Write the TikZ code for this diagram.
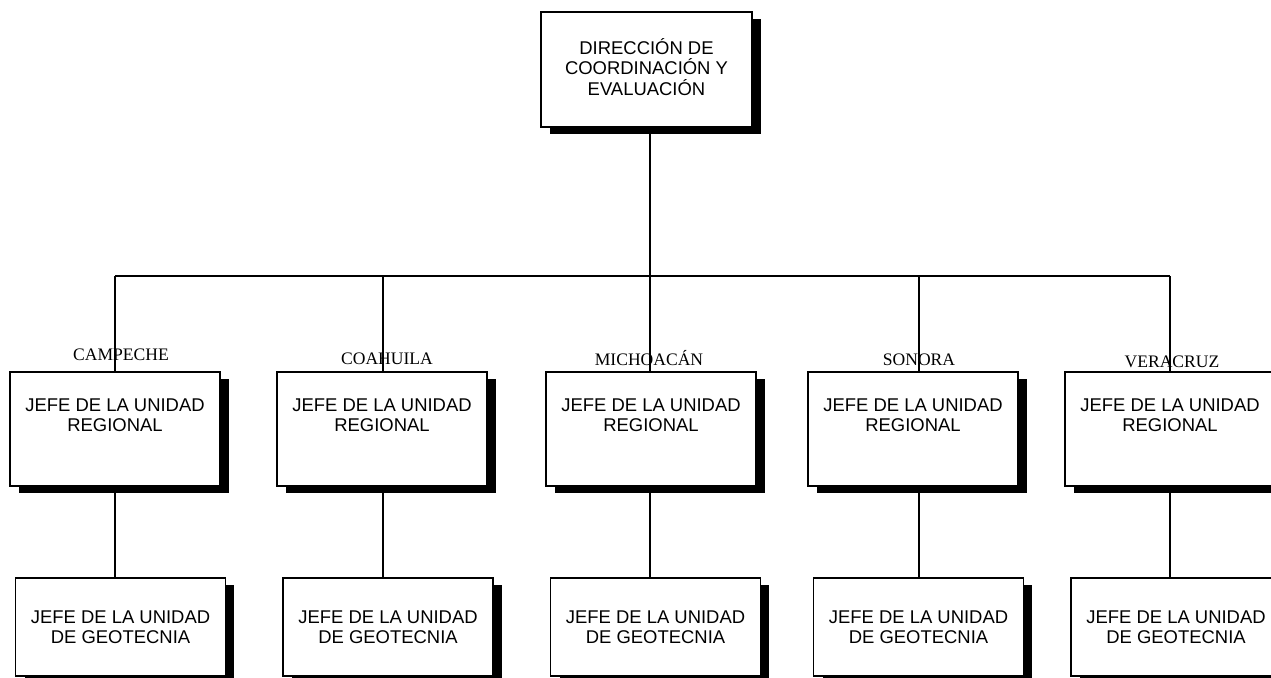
\documentclass[tikz,border=0pt]{standalone}
\usepackage{fontspec}
\setmainfont{Liberation Sans}
\newfontfamily\statefont{Liberation Serif}
\usetikzlibrary{shadows}
\tikzset{
  box/.style={rectangle, draw, line width=1.1pt, fill=white, minimum width=4.2cm,
    align=center, font=\fontsize{10.5}{11.6}\selectfont,
    drop shadow={shadow xshift=0.18cm, shadow yshift=-0.14cm, fill=black, opacity=1}},
  regbox/.style={box, minimum height=2.28cm},
  geobox/.style={box, minimum height=1.96cm},
  boxtext/.style={align=center, font=\fontsize{10.5}{11.6}\selectfont, inner sep=0pt},
  state/.style={font=\statefont\fontsize{10}{12}\selectfont, inner sep=0pt},
  link/.style={line width=1.1pt}
}
\begin{document}
\begin{tikzpicture}[x=0.02cm, y=-0.02cm]
\useasboundingbox (0,0) rectangle (1271,677);
% top
\node[box, minimum width=4.22cm, minimum height=2.3cm] (dir) at (646.5,69.5) {};
\node[boxtext] (dirtext) at (646.5,67) {DIRECCIÓN DE\\COORDINACIÓN Y\\EVALUACIÓN};
% junctions on the bar
\coordinate (j1) at (115,276);
\coordinate (j2) at (383,276);
\coordinate (j3) at (650,276);
\coordinate (j4) at (919,276);
\coordinate (j5) at (1170,276);
% regional units
\node[regbox] (reg1) at (115,429) {};
\node[regbox] (reg2) at (382,429) {};
\node[regbox] (reg3) at (651,429) {};
\node[regbox] (reg4) at (913,429) {};
\node[regbox] (reg5) at (1170,429) {};
\node[boxtext] (regtext1) at (115,415) {JEFE DE LA UNIDAD\\REGIONAL};
\node[boxtext] (regtext2) at (382,415) {JEFE DE LA UNIDAD\\REGIONAL};
\node[boxtext] (regtext3) at (651,415) {JEFE DE LA UNIDAD\\REGIONAL};
\node[boxtext] (regtext4) at (913,415) {JEFE DE LA UNIDAD\\REGIONAL};
\node[boxtext] (regtext5) at (1170,415) {JEFE DE LA UNIDAD\\REGIONAL};
% geotecnia units
\node[geobox] (geo1) at (120.5,627) {JEFE DE LA UNIDAD\\DE GEOTECNIA};
\node[geobox] (geo2) at (388,627) {JEFE DE LA UNIDAD\\DE GEOTECNIA};
\node[geobox] (geo3) at (655.5,627) {JEFE DE LA UNIDAD\\DE GEOTECNIA};
\node[geobox] (geo4) at (918.5,627) {JEFE DE LA UNIDAD\\DE GEOTECNIA};
\node[geobox] (geo5) at (1176,627) {JEFE DE LA UNIDAD\\DE GEOTECNIA};
% connectors
\draw[link] (dir.south -| j3) -- (j3);
\draw[link] (j1) -- (j5);
\draw[link] (j1) -- (j1 |- reg1.north);
\draw[link] (j2) -- (j2 |- reg2.north);
\draw[link] (j3) -- (j3 |- reg3.north);
\draw[link] (j4) -- (j4 |- reg4.north);
\draw[link] (j5) -- (j5 |- reg5.north);
\draw[link] (reg1.south -| j1) -- (geo1.north -| j1);
\draw[link] (reg2.south -| j2) -- (geo2.north -| j2);
\draw[link] (reg3.south -| j3) -- (geo3.north -| j3);
\draw[link] (reg4.south -| j4) -- (geo4.north -| j4);
\draw[link] (reg5.south -| j5) -- (geo5.north -| j5);
% state names
\node[state] (st1) at (121,355) {CAMPECHE};
\node[state] (st2) at (387,359) {COAHUILA};
\node[state] (st3) at (649,358) {MICHOACÁN};
\node[state] (st4) at (919,360) {SONORA};
\node[state] (st5) at (1172,362) {VERACRUZ};
\end{tikzpicture}
\end{document}
